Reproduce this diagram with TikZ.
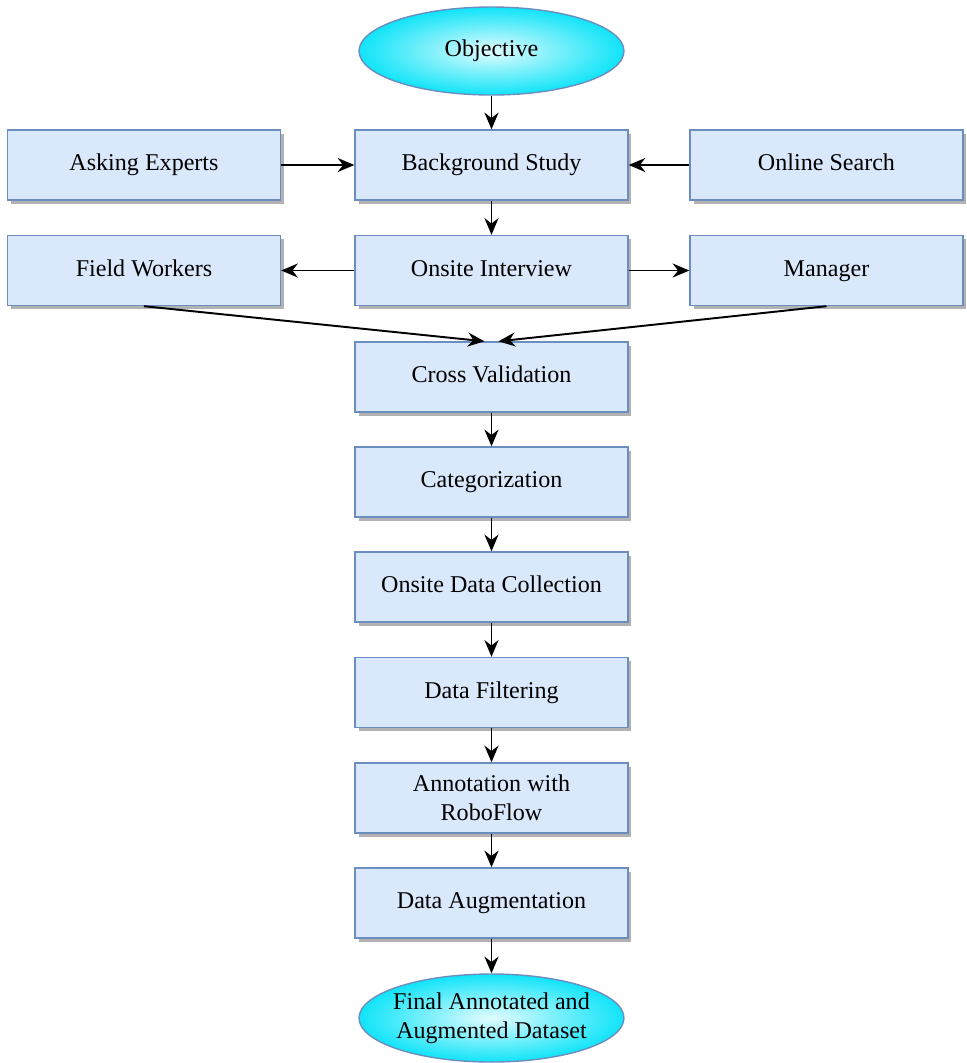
\documentclass[tikz,border=0pt]{standalone}
\usepackage{fontspec}
\setmainfont{Liberation Serif}
\usepackage{tikz}
\usetikzlibrary{positioning, shapes, arrows.meta, shadows, calc}
\definecolor{boxfill}{HTML}{DAE8FC}
\definecolor{boxline}{HTML}{6C8EBF}
\definecolor{endfill}{HTML}{10E4F8}
\tikzstyle{stepbox}=[
  rectangle,
  minimum width=5.46cm,
  minimum height=1.4cm,
  text height=2ex,
  text depth=0.6ex,
  fill=boxfill,
  draw=boxline,
  line width=0.8pt,
  drop shadow={shadow xshift=0.07cm, shadow yshift=-0.07cm, fill=black!30, opacity=1},
  font={\fontsize{13.7}{16.5}\selectfont}
]
\tikzstyle{io}=[
  ellipse,
  minimum width=5.3cm,
  minimum height=1.76cm,
  inner sep=0pt,
  shading=radial,
  inner color=endfill!12!white,
  outer color=endfill,
  draw=boxline,
  line width=0.8pt,
  align=center,
  font={\fontsize{13.7}{16.5}\selectfont}
]
\tikzstyle{conn}=[
  -{Stealth[length=9.5pt,width=8pt]},
  line width=1.1pt,
  black
]

\begin{document}
\begin{tikzpicture}[x=0.02cm, y=-0.02cm]

\useasboundingbox (0,0) rectangle (967,1063); %% spacing

\newcommand\MX{491.5}

\node[io] (obj) at (\MX, 51) {Objective};

\node[stepbox] (bg) at (\MX, 165) {Background Study};
\node[stepbox] (ask) at (144, 165) {Asking Experts};
\node[stepbox] (web) at (826.5, 165) {Online Search};
%%

\node[stepbox] (oi) at (\MX, 270.5) {Onsite Interview};
\node[stepbox] (fw) at (144, 270.5) {Field Workers};
\node[stepbox] (mgr) at (826.5, 270.5) {Manager};
%%

\node[stepbox] (cv) at (\MX, 377) {Cross Validation};
\node[stepbox] (cat) at (\MX, 482) {Categorization};
\node[stepbox] (odc) at (\MX, 587) {Onsite Data Collection};
\node[stepbox] (filt) at (\MX, 692.5) {Data Filtering};
\node[stepbox, align=center, text height=, text depth=] (ann) at (\MX, 798) {Annotation with\\RoboFlow};
\node[stepbox] (aug) at (\MX, 903) {Data Augmentation};

\node[io, inner xsep=-0.55cm] (fin) at (\MX, 1018) {Final Annotated and\\Augmented Dataset};
%%

\draw[conn] (obj) -- (bg);
\draw[conn] (ask) -- (bg);
\draw[conn] (web) -- (bg);
\draw[conn] (bg) -- (oi);
\draw[conn] (oi) -- (fw);
\draw[conn] (oi) -- (mgr);

\coordinate (cvl) at ($(cv.north)+(-7,0)$);
\coordinate (cvr) at ($(cv.north)+(7,0)$);
\draw[conn] (fw.south) -- (cvl);
\draw[conn] (mgr.south) -- (cvr);

\draw[conn] (cv) -- (cat);
\draw[conn] (cat) -- (odc);
\draw[conn] (odc) -- (filt);
\draw[conn] (filt) -- (ann);
\draw[conn] (ann) -- (aug);
\draw[conn] (aug) -- (fin);

\end{tikzpicture}
\end{document}
